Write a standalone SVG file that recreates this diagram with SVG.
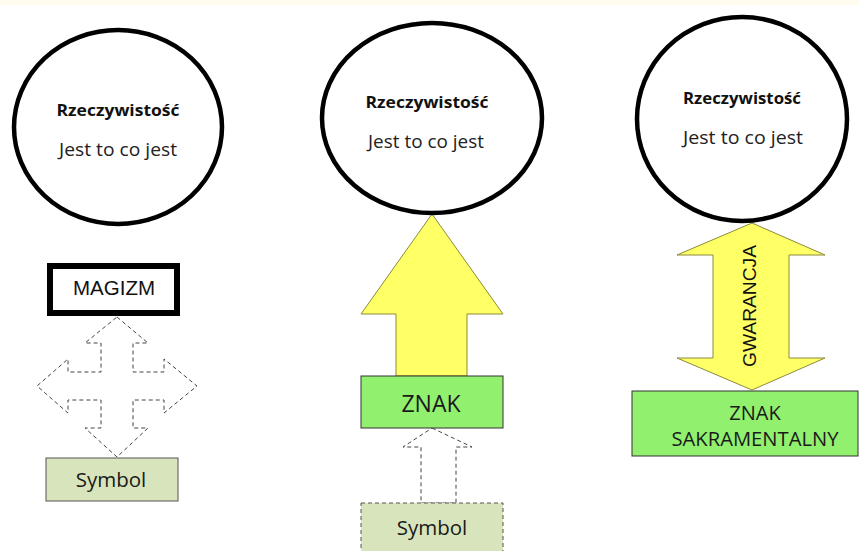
<svg xmlns="http://www.w3.org/2000/svg" width="859" height="551" viewBox="0 0 859 551">
<style>
.circ{fill:#ffffff;stroke:#000;stroke-width:4.5}
.t1{font-family:"Open Sans","Noto Sans",sans-serif;font-weight:bold;font-size:16.5px;fill:#111;text-anchor:middle}
.t2{font-family:"Open Sans","Noto Sans",sans-serif;font-size:18px;fill:#222;text-anchor:middle}
.cal{font-family:"Open Sans","Noto Sans",sans-serif;fill:#1a1a1a;text-anchor:middle}
.ar{font-family:"Liberation Sans",Arial,sans-serif;fill:#111;text-anchor:middle}
.dash{fill:#fff;stroke:#444;stroke-width:1;stroke-dasharray:4,3}
.yel{fill:#ffff66;stroke:#8b8b3a;stroke-width:1}
.grn{fill:#92f06f;stroke:#333;stroke-width:1}
</style>
<rect x="0" y="0" width="859" height="551" fill="#ffffff"/>
<rect x="0" y="0" width="859" height="5" fill="#fffbef"/>
<g id="connectors">
<path class="dash" d="M117,317 L148,343 L133,343 L133,372 L164,372 L164,359 L197,386 L164,413 L164,400 L133,400 L133,428 L148,428 L117,457 L85,428 L101,428 L101,400 L68,400 L68,413 L37,386 L68,359 L68,372 L101,372 L101,343 L85,343 Z"/>
<path class="yel" d="M432,214 L503,314 L467,314 L467,376 L396,376 L396,314 L361,314 Z"/>
<path class="dash" d="M432,428 L472,447 L456,447 L456,503 L421,503 L421,447 L403,447 Z"/>
<path class="yel" d="M752,223 L825,255 L789,255 L789,358 L825,358 L752,390 L677,358 L713,358 L713,255 L677,255 Z"/>
<text class="ar" font-size="19" textLength="122" lengthAdjust="spacingAndGlyphs" transform="translate(756,306) rotate(-90)">GWARANCJA</text>
</g>
<g id="circle1">
<ellipse class="circ" cx="118" cy="127" rx="104" ry="97"/>
<text class="t1" x="118" y="116" textLength="123" lengthAdjust="spacingAndGlyphs">Rzeczywistość</text>
<text class="t2" x="118" y="156" textLength="118" lengthAdjust="spacingAndGlyphs">Jest to co jest</text>
</g>
<g id="circle2">
<ellipse class="circ" cx="432" cy="118" rx="110" ry="95"/>
<text class="t1" x="427" y="108" textLength="123" lengthAdjust="spacingAndGlyphs">Rzeczywistość</text>
<text class="t2" x="426" y="148" textLength="116" lengthAdjust="spacingAndGlyphs">Jest to co jest</text>
</g>
<g id="circle3">
<ellipse class="circ" cx="742" cy="119" rx="105" ry="102"/>
<text class="t1" x="742" y="104" textLength="118" lengthAdjust="spacingAndGlyphs">Rzeczywistość</text>
<text class="t2" x="743" y="144" textLength="120" lengthAdjust="spacingAndGlyphs">Jest to co jest</text>
</g>
<g id="magizm">
<rect x="50" y="266" width="127" height="47" fill="#fff" stroke="#000" stroke-width="6"/>
<text class="ar" font-size="20" x="114" y="295" textLength="82" lengthAdjust="spacingAndGlyphs">MAGIZM</text>
</g>
<g id="symbol1">
<rect x="46" y="458" width="132" height="43" fill="#d8e4bc" stroke="#555" stroke-width="1"/>
<text class="cal" font-size="20.5" x="111" y="487">Symbol</text>
</g>
<g id="znak">
<rect class="grn" x="361" y="376" width="142" height="52"/>
<text class="cal" font-size="23" x="431" y="412">ZNAK</text>
</g>
<g id="symbol2">
<rect x="361" y="503" width="142" height="52" fill="#d8e4bc" stroke="#555" stroke-width="1" stroke-dasharray="4,3"/>
<text class="cal" font-size="20.5" x="432" y="535">Symbol</text>
</g>
<g id="znak-sakramentalny">
<rect class="grn" x="632" y="391" width="226" height="65"/>
<text class="cal" font-size="20" x="755" y="420">ZNAK</text>
<text class="cal" font-size="20" x="755" y="446" textLength="167" lengthAdjust="spacingAndGlyphs">SAKRAMENTALNY</text>
</g>
</svg>
